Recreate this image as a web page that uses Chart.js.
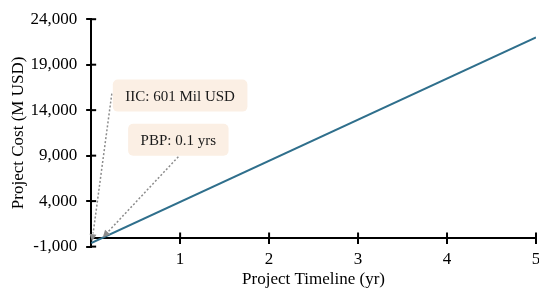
<!DOCTYPE html>
<html>
<head>
<meta charset="utf-8">
<script src="https://cdn.jsdelivr.net/npm/chart.js"></script>
<style>
    html, body { margin: 0; padding: 0; background: #fff; }
    #wrap { width: 539px; height: 290px; }
</style>
</head>
<body>
<div id="wrap"><canvas id="costChart"></canvas></div>
<script>
// 数据
const timelineYears = [0, 5];
const projectCost = [-601, 22000];
const yTickValues = [-1000, 4000, 9000, 14000, 19000, 24000];
const xTickValues = [1, 2, 3, 4, 5];
const calloutTexts = ['IIC: 601 Mil USD', 'PBP: 0.1 yrs'];

const SERIF = "'Liberation Serif', 'Times New Roman', serif";

// 标注位置 (数据坐标)
const callouts = [
    { text: calloutTexts[0], at: { x: 1.0, y: 15600 }, from: 'left', to: { x: 0.01, y: -420 } },
    { text: calloutTexts[1], at: { x: 0.98, y: 10750 }, from: 'bottom', to: { x: 0.13, y: 0 } }
];

// 坐标轴刻度穿过轴线
const crossTicks = {
    id: 'crossTicks',
    afterDraw(chart) {
        const ctx = chart.ctx;
        const y = chart.scales.y;
        const x0 = chart.scales.x0;
        ctx.save();
        ctx.strokeStyle = '#000';
        ctx.lineWidth = 2;
        y.ticks.forEach(t => {
            const py = y.getPixelForValue(t.value);
            ctx.beginPath();
            ctx.moveTo(y.right, py);
            ctx.lineTo(y.right + 5, py);
            ctx.stroke();
        });
        const axisY = y.getPixelForValue(0);
        x0.ticks.forEach(t => {
            const px = x0.getPixelForValue(t.value);
            ctx.beginPath();
            ctx.moveTo(px, axisY);
            ctx.lineTo(px, axisY - 5);
            ctx.stroke();
        });
        ctx.restore();
    }
};

// 文本框和箭头
const calloutPlugin = {
    id: 'callouts',
    afterDraw(chart) {
        const ctx = chart.ctx;
        const xs = chart.scales.x;
        const ys = chart.scales.y;
        ctx.save();
        ctx.font = '15px ' + SERIF;
        callouts.forEach(c => {
            const cx = xs.getPixelForValue(c.at.x);
            const cy = ys.getPixelForValue(c.at.y);
            const tw = ctx.measureText(c.text).width;
            const w = tw + 25;
            const h = 32;
            const bx = cx - w / 2;
            const by = cy - h / 2;

            let sx, sy;
            if (c.from === 'left') { sx = bx - 1; sy = cy - 2; }
            else { sx = cx; sy = by + h + 1; }
            const tx = xs.getPixelForValue(c.to.x);
            const ty = ys.getPixelForValue(c.to.y);
            const ang = Math.atan2(ty - sy, tx - sx);
            const head = 8;

            ctx.strokeStyle = '#8c8c8c';
            ctx.lineWidth = 1.5;
            ctx.setLineDash([2, 2]);
            ctx.beginPath();
            ctx.moveTo(sx, sy);
            ctx.lineTo(tx - Math.cos(ang) * head, ty - Math.sin(ang) * head);
            ctx.stroke();
            ctx.setLineDash([]);

            ctx.fillStyle = '#8c8c8c';
            ctx.beginPath();
            ctx.moveTo(tx, ty);
            ctx.lineTo(tx - Math.cos(ang - 0.45) * head, ty - Math.sin(ang - 0.45) * head);
            ctx.lineTo(tx - Math.cos(ang + 0.45) * head, ty - Math.sin(ang + 0.45) * head);
            ctx.closePath();
            ctx.fill();

            ctx.fillStyle = '#fbefe4';
            ctx.beginPath();
            ctx.roundRect(bx, by, w, h, 5);
            ctx.fill();

            ctx.fillStyle = '#1a1a1a';
            ctx.textAlign = 'center';
            ctx.textBaseline = 'middle';
            ctx.fillText(c.text, cx, cy + 1);
        });
        ctx.restore();
    }
};

const points = timelineYears.map((t, i) => ({ x: t, y: projectCost[i] }));

new Chart(document.getElementById('costChart'), {
    type: 'line',
    data: {
        datasets: [{
            data: points,
            borderColor: '#2f6f8c',
            borderWidth: 2,
            pointRadius: 0,
            fill: false,
            tension: 0
        }]
    },
    options: {
        responsive: true,
        maintainAspectRatio: false,
        animation: false,
        layout: { padding: { top: 6, right: 0, left: 8, bottom: 0 } },
        plugins: {
            legend: { display: false },
            tooltip: { enabled: false }
        },
        scales: {
            x: {
                type: 'linear',
                position: 'bottom',
                min: 0,
                max: 5,
                afterBuildTicks: s => { s.ticks = xTickValues.map(v => ({ value: v })); },
                afterFit: s => { s.paddingRight = 3; },
                border: { display: false },
                grid: { display: false, drawTicks: false },
                ticks: {
                    color: '#000',
                    font: { family: SERIF, size: 17, lineHeight: 1 },
                    padding: 4
                },
                title: {
                    display: true,
                    text: 'Project Timeline (yr)',
                    color: '#000',
                    font: { family: SERIF, size: 17 },
                    padding: { top: -2, bottom: 0 }
                }
            },
            x0: {
                type: 'linear',
                axis: 'x',
                position: { y: 0 },
                min: 0,
                max: 5,
                afterBuildTicks: s => { s.ticks = xTickValues.map(v => ({ value: v })); },
                border: { display: true, color: '#000', width: 2 },
                grid: { drawOnChartArea: false, color: '#000', lineWidth: 2, tickLength: 5 },
                ticks: { display: false }
            },
            y: {
                type: 'linear',
                min: -1000,
                max: 24000,
                afterBuildTicks: s => { s.ticks = yTickValues.map(v => ({ value: v })); },
                border: { display: true, color: '#000', width: 2 },
                grid: { drawOnChartArea: false, color: '#000', lineWidth: 2, tickLength: 5 },
                ticks: {
                    color: '#000',
                    font: { family: SERIF, size: 17 },
                    padding: 9,
                    callback: v => v.toLocaleString('en-US')
                },
                title: {
                    display: true,
                    text: 'Project Cost (M USD)',
                    color: '#000',
                    font: { family: SERIF, size: 17 },
                    padding: { top: 0, bottom: -7 }
                }
            }
        }
    },
    plugins: [crossTicks, calloutPlugin]
});
</script>
</body>
</html>
